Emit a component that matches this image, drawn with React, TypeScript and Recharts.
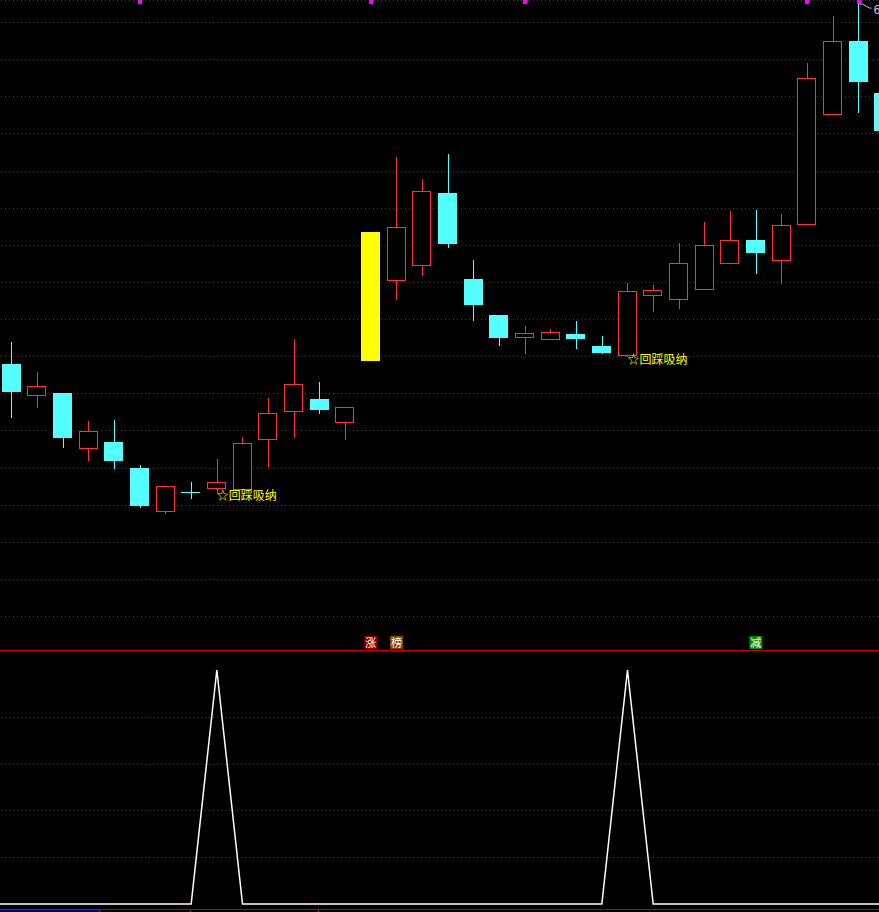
import React from "react";
import {
  ComposedChart,
  Bar,
  Line,
  Scatter,
  XAxis,
  YAxis,
  CartesianGrid,
} from "recharts";

// daily candles (price units)
const opens = [
  5.879, 5.793, 5.801, 5.65, 5.669, 5.599, 5.48, 5.534, 5.542, 5.539, 5.674, 5.75,
  5.785, 5.72, 5.887, 6.102, 6.143, 6.339, 6.108, 6.011, 5.949, 5.944, 5.96, 5.927,
  5.9, 6.062, 6.051, 6.078, 6.148, 6.213, 6.156, 6.253, 6.55, 6.749, 6.609,
];
const highs = [
  5.938, 5.857, 5.801, 5.725, 5.728, 5.607, 5.55, 5.561, 5.623, 5.682, 5.787, 5.946,
  5.83, 5.763, 6.234, 6.436, 6.377, 6.445, 6.159, 6.011, 5.981, 5.973, 5.995, 5.954,
  6.097, 6.092, 6.205, 6.261, 6.291, 6.294, 6.283, 6.69, 6.816, 6.851, 6.63,
];
const lows = [
  5.733, 5.76, 5.653, 5.618, 5.596, 5.491, 5.475, 5.515, 5.531, 5.534, 5.601, 5.68,
  5.744, 5.674, 5.887, 6.051, 6.116, 6.191, 5.995, 5.927, 5.906, 5.944, 5.919, 5.906,
  5.898, 6.019, 6.027, 6.078, 6.148, 6.121, 6.094, 6.253, 6.55, 6.555, 6.496,
];
const closes = [
  5.803, 5.82, 5.68, 5.698, 5.618, 5.496, 5.55, 5.534, 5.561, 5.666, 5.747, 5.825,
  5.755, 5.763, 6.234, 6.248, 6.345, 6.202, 6.038, 5.949, 5.962, 5.965, 5.946, 5.909,
  6.075, 6.078, 6.151, 6.199, 6.213, 6.178, 6.253, 6.649, 6.749, 6.638, 6.506,
];

// lower indicator
const osc = [
  0, 0, 0, 0, 0, 0, 0, 0, 100, 0, 0, 0, 0, 0, 0, 0, 0, 0, 0, 0, 0, 0, 0, 0, 100, 0,
  0, 0, 0, 0, 0, 0, 0, 0, 0,
];

const limitUpDays = [14];
const signalDays = [8, 24];
const markDays = [5, 14, 20, 31, 33];
const highDay = 33;
const tagDays = [14, 15, 29];
const tagTexts = ["涨", "榜", "减"];
const tagColors = ["#8e0000", "#8a4200", "#008a00"];

const priceTicks = [
  5.2, 5.3, 5.4, 5.5, 5.6, 5.7, 5.8, 5.9, 6.0, 6.1, 6.2, 6.3, 6.4, 6.5, 6.6, 6.7, 6.8,
];
const oscTicks = [20, 40, 60, 80];

const MARK_Y = 6.8526;
const TAG_Y = 5.1287;

const RED = "#ff3232";
const CYAN = "#54ffff";
const GRID = "#c80000";

const data = [
  { i: -1, osc: 0 },
  ...opens.map((o, i) => {
    const t = tagDays.indexOf(i);
    return {
      i,
      open: o,
      high: highs[i],
      low: lows[i],
      close: closes[i],
      prev: i > 0 ? closes[i - 1] : o,
      limit: limitUpDays.includes(i),
      osc: osc[i],
      mark: markDays.includes(i) ? MARK_Y : null,
      sig: signalDays.includes(i) ? lows[i] : null,
      peak: i === highDay ? highs[i] : null,
      tag: t >= 0 ? TAG_Y : null,
      tagText: t >= 0 ? tagTexts[t] : "",
      tagColor: t >= 0 ? tagColors[t] : "",
    };
  }),
];

const GridLine = (props: any) => {
  const { x1, x2, y1, key } = props;
  const y = Math.round(y1) + 0.5;
  return (
    <line
      key={key}
      x1={Math.round(x1)}
      x2={x2}
      y1={y}
      y2={y}
      stroke={GRID}
      strokeWidth={1}
      strokeDasharray="1 3"
    />
  );
};

const Candle = (props: any) => {
  const { x, y, width, height, payload } = props;
  if (payload == null || payload.open == null) return <g />;
  const { open, high, low, close, prev, limit } = payload;
  const top0 = Math.min(y, y + height);
  const h = Math.abs(height);
  const span = high - low || 1;
  const py = (v: number) => top0 + ((high - v) / span) * h;
  const cx = Math.round(x + width / 2) + 0.5;
  const left = Math.round(x);
  const w = Math.round(width);
  const bodyTop = Math.round(py(Math.max(open, close)));
  const bodyBot = Math.round(py(Math.min(open, close)));
  const up = close > open || (close === open && close >= prev);

  if (limit) {
    return (
      <rect x={left} y={bodyTop} width={w} height={bodyBot - bodyTop} fill="#ffff00" />
    );
  }
  if (up) {
    return (
      <g shapeRendering="crispEdges">
        <line x1={cx} x2={cx} y1={py(high)} y2={bodyTop} stroke={RED} />
        <line x1={cx} x2={cx} y1={bodyBot} y2={py(low)} stroke={RED} />
        <rect
          x={left + 0.5}
          y={bodyTop + 0.5}
          width={w - 1}
          height={Math.max(bodyBot - bodyTop - 1, 0)}
          fill="#000"
          stroke={RED}
        />
      </g>
    );
  }
  return (
    <g shapeRendering="crispEdges">
      <line x1={cx} x2={cx} y1={py(high)} y2={py(low)} stroke={CYAN} />
      <rect
        x={left}
        y={bodyTop}
        width={w}
        height={Math.max(bodyBot - bodyTop, 1)}
        fill={CYAN}
      />
    </g>
  );
};

const MarkDot = (props: any) => {
  const { cx, cy, payload } = props;
  if (payload?.mark == null) return <g />;
  return (
    <rect
      x={Math.round(cx) - 2}
      y={Math.round(cy) - 2}
      width={4}
      height={4}
      fill="#ff00ff"
      shapeRendering="crispEdges"
    />
  );
};

const SignalText = (props: any) => {
  const { cx, cy, payload } = props;
  if (payload?.sig == null) return <g />;
  return (
    <text x={cx} y={cy + 7} fill="#ffff00" fontSize={12}>
      ☆回踩吸纳
    </text>
  );
};

const PeakLabel = (props: any) => {
  const { cx, cy, payload } = props;
  if (payload?.peak == null) return <g />;
  return (
    <g>
      <polyline
        points={`${cx + 1},${cy + 1} ${cx + 4},${cy + 1} ${cx + 11},${cy + 5} ${cx + 13},${cy + 5}`}
        fill="none"
        stroke="#c8c8c8"
      />
      <text x={cx + 15} y={cy + 11} fill="#c8c8c8" fontSize={12} fontFamily="DejaVu Sans Mono">
        6.85
      </text>
    </g>
  );
};

const TagBox = (props: any) => {
  const { cx, cy, payload } = props;
  if (payload?.tag == null) return <g />;
  return (
    <g>
      <rect x={cx - 6.5} y={cy - 6.5} width={13} height={13} fill={payload.tagColor} />
      <text x={cx} y={cy + 4.5} fill="#fff" fontSize={11} textAnchor="middle">
        {payload.tagText}
      </text>
    </g>
  );
};

const CHART_W = 924;
const SHIFT = -27;

export default function App() {
  return (
    <div
      style={{
        position: "fixed",
        left: 0,
        top: 0,
        width: 879,
        height: 912,
        overflow: "hidden",
        background: "#000",
        fontFamily: "'Noto Sans CJK SC', sans-serif",
      }}
    >
      <div style={{ position: "absolute", left: SHIFT, top: 0 }}>
        <ComposedChart
          width={CHART_W}
          height={650}
          data={data}
          margin={{ top: 0, right: 0, bottom: 0, left: 0 }}
          barCategoryGap={0}
        >
          <CartesianGrid vertical={false} horizontal={<GridLine />} stroke={GRID} />
          <XAxis dataKey="i" type="category" scale="band" hide />
          <YAxis
            type="number"
            domain={[5.10846, 6.8593]}
            ticks={priceTicks}
            allowDataOverflow
            hide
          />
          <Bar
            dataKey={(d: any) => (d.open == null ? null : [d.low, d.high])}
            barSize={19}
            shape={<Candle />}
            isAnimationActive={false}
          />
          <Scatter dataKey="mark" shape={<MarkDot />} isAnimationActive={false} />
          <Scatter dataKey="sig" shape={<SignalText />} isAnimationActive={false} />
          <Scatter dataKey="peak" shape={<PeakLabel />} isAnimationActive={false} />
          <Scatter dataKey="tag" shape={<TagBox />} isAnimationActive={false} />
        </ComposedChart>
      </div>

      <div
        style={{
          position: "absolute",
          left: 0,
          top: 650,
          width: 879,
          height: 1,
          background: "#c80000",
        }}
      />

      <div style={{ position: "absolute", left: SHIFT, top: 650 }}>
        <ComposedChart
          width={CHART_W}
          height={262}
          data={data}
          margin={{ top: 0, right: 0, bottom: 0, left: 0 }}
        >
          <CartesianGrid vertical={false} horizontal={<GridLine />} stroke={GRID} />
          <XAxis dataKey="i" type="category" scale="band" hide />
          <YAxis
            type="number"
            domain={[-3.419, 108.547]}
            ticks={oscTicks}
            allowDataOverflow
            hide
          />
          <Line
            type="linear"
            dataKey="osc"
            stroke="#ffffff"
            strokeWidth={1.5}
            dot={false}
            isAnimationActive={false}
          />
        </ComposedChart>
      </div>

      <div
        style={{
          position: "absolute",
          left: 0,
          top: 909,
          width: 879,
          height: 1,
          background: "#c80000",
        }}
      />
      <div
        style={{
          position: "absolute",
          left: 0,
          top: 910,
          width: 99,
          height: 2,
          background: "#000090",
        }}
      />
      {[99, 190, 318].map((x) => (
        <div
          key={x}
          style={{
            position: "absolute",
            left: x,
            top: 909,
            width: 1,
            height: 3,
            background: "#c80000",
          }}
        />
      ))}
    </div>
  );
}
